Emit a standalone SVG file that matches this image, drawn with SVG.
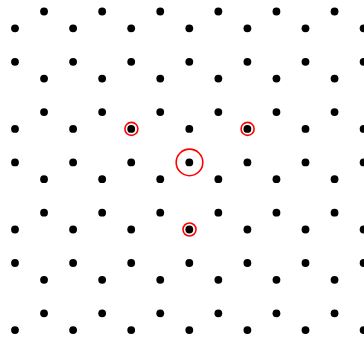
<svg xmlns="http://www.w3.org/2000/svg" xmlns:xlink="http://www.w3.org/1999/xlink" width="364" height="341" viewBox="0 0 364 341">
<style>
.dot{fill:#000}
.ring{fill:none;stroke:#ff0000;stroke-width:1.6}
</style>
<defs>
<g id="oddRow">
<circle class="dot" cx="44.05" cy="0" r="3.9"/>
<circle class="dot" cx="102.15" cy="0" r="3.9"/>
<circle class="dot" cx="160.25" cy="0" r="3.9"/>
<circle class="dot" cx="218.35" cy="0" r="3.9"/>
<circle class="dot" cx="276.45" cy="0" r="3.9"/>
<circle class="dot" cx="334.55" cy="0" r="3.9"/>
</g>
<g id="evenRow">
<circle class="dot" cx="15" cy="0" r="3.9"/>
<circle class="dot" cx="73.1" cy="0" r="3.9"/>
<circle class="dot" cx="131.2" cy="0" r="3.9"/>
<circle class="dot" cx="189.3" cy="0" r="3.9"/>
<circle class="dot" cx="247.4" cy="0" r="3.9"/>
<circle class="dot" cx="305.5" cy="0" r="3.9"/>
<circle class="dot" cx="363.6" cy="0" r="3.9"/>
</g>
</defs>
<rect width="364" height="341" fill="#ffffff"/>
<g id="lattice">
<use xlink:href="#oddRow" href="#oddRow" transform="translate(0,11.5)"/>
<use xlink:href="#evenRow" href="#evenRow" transform="translate(0,28.3)"/>
<use xlink:href="#evenRow" href="#evenRow" transform="translate(0,61.8)"/>
<use xlink:href="#oddRow" href="#oddRow" transform="translate(0,78.6)"/>
<use xlink:href="#oddRow" href="#oddRow" transform="translate(0,112.1)"/>
<use xlink:href="#evenRow" href="#evenRow" transform="translate(0,128.9)"/>
<use xlink:href="#evenRow" href="#evenRow" transform="translate(0,162.4)"/>
<use xlink:href="#oddRow" href="#oddRow" transform="translate(0,179.2)"/>
<use xlink:href="#oddRow" href="#oddRow" transform="translate(0,212.7)"/>
<use xlink:href="#evenRow" href="#evenRow" transform="translate(0,229.5)"/>
<use xlink:href="#evenRow" href="#evenRow" transform="translate(0,263)"/>
<use xlink:href="#oddRow" href="#oddRow" transform="translate(0,279.8)"/>
<use xlink:href="#oddRow" href="#oddRow" transform="translate(0,313.3)"/>
<use xlink:href="#evenRow" href="#evenRow" transform="translate(0,330.1)"/>
</g>
<g id="markers">
<circle class="ring" cx="189.5" cy="162.4" r="13.3"/>
<circle class="ring" cx="131.4" cy="128.9" r="6.5"/>
<circle class="ring" cx="247.6" cy="128.9" r="6.5"/>
<circle class="ring" cx="189.5" cy="229.5" r="6.5"/>
</g>
</svg>
